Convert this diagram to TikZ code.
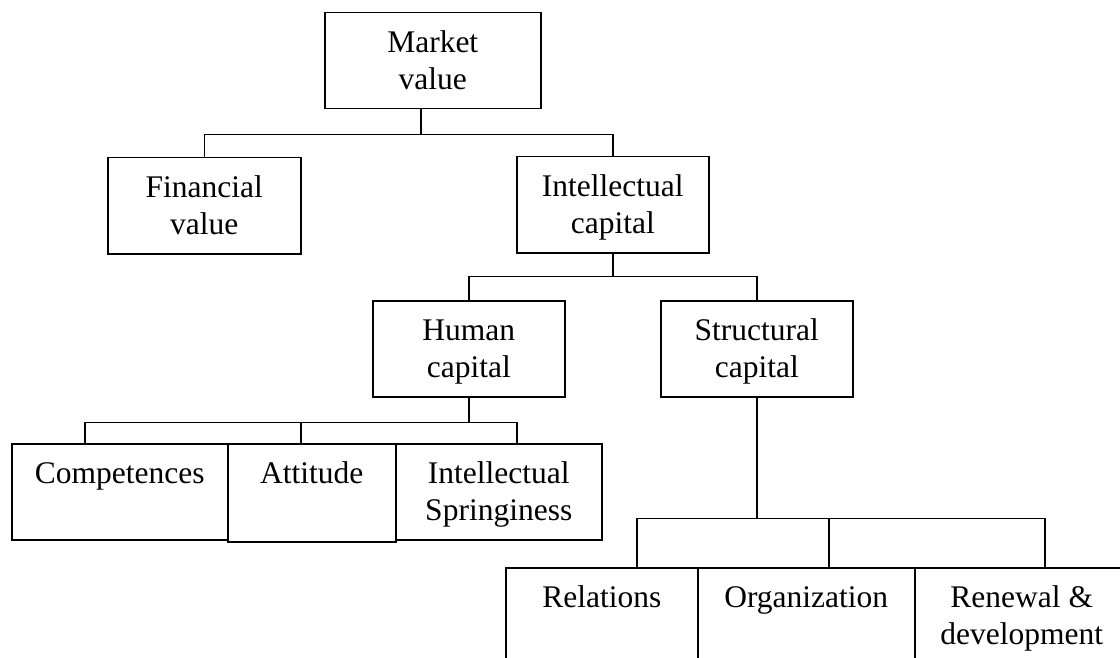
\documentclass[tikz,border=0pt]{standalone}
\usepackage{fontspec}
\setmainfont{Liberation Serif}

% lines of a box label, first baseline on the node's baseline
\newcommand{\lines}[1]{\begin{tabular}[t]{@{}c@{}}#1\end{tabular}}

\tikzset{
  box/.style={draw, line width=1.5pt, inner sep=0pt, anchor=north west,
    text height=40pt, text depth=56pt,
    font=\fontsize{31.5}{37}\selectfont},
}

\begin{document}
\begin{tikzpicture}[x=1pt, y=-1pt]
      \useasboundingbox (0,0) rectangle (1120,658);
      \clip (0,0) rectangle (1120,658);
      \node[box, minimum width=216pt] (mkt) at (324,12) {\lines{Market\\value}};
      \node[box, minimum width=193pt] (fin) at (107,157) {\lines{Financial\\value}};
      \node[box, minimum width=192pt] (ic) at (516,156) {\lines{Intellectual\\capital}};
      \node[box, minimum width=192pt] (hum) at (372,300) {\lines{Human\\capital}};
      \node[box, minimum width=192pt] (str) at (660,300) {\lines{Structural\\capital}};
      \node[box, minimum width=216pt] (comp) at (11,443) {\lines{Competences}};
      \node[box, minimum width=168pt, text depth=58pt] (att) at (227,443) {\lines{Attitude}};
      \node[box, minimum width=206pt] (spr) at (395,443) {\lines{Intellectual\\Springiness}};
      \node[box, minimum width=192pt] (rel) at (505,567) {\lines{Relations}};
      \node[box, minimum width=217pt] (org) at (697,567) {\lines{Organization}};
      \node[box, minimum width=214pt] (ren) at (914,567) {\lines{Renewal \&\\development}};
      \begin{scope}[line width=1.5pt]
        \draw ([xshift=-12pt]mkt.south) -- ++(0,25) coordinate (mj);
        \draw (fin.north) |- (mj) -| (ic.north);
        \draw (ic.south) -- ++(0,23) coordinate (ij);
        \draw (hum.north) |- (ij) -| (str.north);
        \draw (hum.south) -- ++(0,25) coordinate (hj);
        \draw ([xshift=-35pt]comp.north) |- (hj) -| ([xshift=18pt]spr.north);
        \draw ([xshift=-11pt]att.north) -- ([xshift=-11pt]att.north |- hj);
        \draw (str.south) -- ++(0,121) coordinate (sj);
        \draw ([xshift=35pt]rel.north) |- (sj) -| ([xshift=23pt]ren.north);
        \draw ([xshift=22.5pt]org.north) -- ([xshift=22.5pt]org.north |- sj);
      \end{scope}
    \end{tikzpicture}
\end{document}
